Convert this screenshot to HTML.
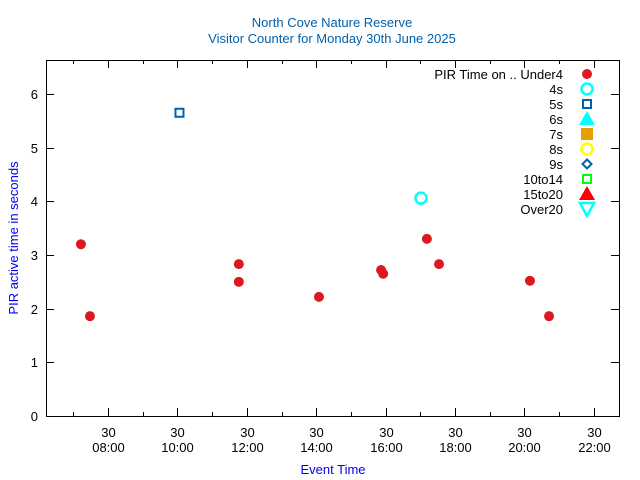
<!DOCTYPE html>
<html><head><meta charset="utf-8"><style>
body{margin:0;background:#fff}
svg{display:block;font-family:"Liberation Sans",sans-serif}
</style></head><body>
<svg id="c" width="640" height="480" xmlns="http://www.w3.org/2000/svg"></svg>
<script>
const under4Hours=[7.22,7.48,11.77,11.77,14.08,15.87,15.93,17.19,17.54,20.16,20.71];
const under4Values=[3.2,1.86,2.83,2.5,2.22,2.72,2.65,3.3,2.83,2.52,1.86];
const s4Hours=[17.02];
const s4Values=[4.06];
const s5Hours=[10.06];
const s5Values=[5.65];
const xTickHours=[8,10,12,14,16,18,20,22];
const xTickLabels=["08:00","10:00","12:00","14:00","16:00","18:00","20:00","22:00"];
const yTicks=[0,1,2,3,4,5,6];
const legendLabels=["PIR Time on .. Under4","4s","5s","6s","7s","8s","9s","10to14","15to20","Over20"];

const L=46,R=619,T=60,B=416;
const X=h=>108+(h-8)*34.7;
const Y=v=>416-v*53.67;
const svg=document.getElementById('c');
const NS="http://www.w3.org/2000/svg";
function mk(tag,attrs,parent){const e=document.createElementNS(NS,tag);for(const k in attrs)e.setAttribute(k,attrs[k]);(parent||svg).appendChild(e);return e;}
function txt(x,y,s,attrs){const e=mk('text',Object.assign({x:x,y:y,'font-size':13},attrs));e.textContent=s;return e;}

let t=txt(332,27,"North Cove Nature Reserve",{'text-anchor':'middle',fill:'#0060ad'});


t=txt(332,43,"Visitor Counter for Monday 30th June 2025",{'text-anchor':'middle',fill:'#0060ad'});



let frame=mk('rect',{x:L+.5,y:T+.5,width:R-L,height:B-T,fill:'none',stroke:'#000','stroke-width':1});



yTicks.forEach(v=>{
  const y=Math.round(Y(v))+.5;
  mk('line',{x1:L,x2:L+8,y1:y,y2:y,stroke:'#000'});
  mk('line',{x1:R-8,x2:R,y1:y,y2:y,stroke:'#000'});
  const e=txt(L-8,y+4.5,String(v),{'text-anchor':'end',fill:'#000'});
  
  
});
xTickHours.forEach((h,i)=>{
  const x=Math.round(X(h))+.5;
  mk('line',{x1:x,x2:x,y1:B,y2:B-8,stroke:'#000'});
  mk('line',{x1:x,x2:x,y1:T,y2:T+8,stroke:'#000'});
  const xm=Math.round(X(h-1))+.5;
  mk('line',{x1:xm,x2:xm,y1:B,y2:B-4,stroke:'#000'});
  mk('line',{x1:xm,x2:xm,y1:T,y2:T+4,stroke:'#000'});
  let e=txt(x,437,"30",{'text-anchor':'middle',fill:'#000'});
  
  
  e=txt(x,452,xTickLabels[i],{'text-anchor':'middle',fill:'#000'});
  
  
});

t=txt(333,474,"Event Time",{'text-anchor':'middle',fill:'#0000ee'});


t=txt(0,0,"PIR active time in seconds",{'text-anchor':'middle',fill:'#0000ee',transform:'translate(18,238) rotate(-90)'});



function marker(type,x,y){
  let e;
  if(type===0)e=mk('circle',{cx:x,cy:y,r:5,fill:'#dd181f'});
  else if(type===1)e=mk('circle',{cx:x,cy:y,r:5.5,fill:'none',stroke:'#00ffff','stroke-width':2.5});
  else if(type===2)e=mk('rect',{x:x-4,y:y-4,width:8,height:8,fill:'none',stroke:'#0060ad','stroke-width':2});
  else if(type===3)e=mk('polygon',{points:`${x},${y-8} ${x+8},${y+6} ${x-8},${y+6}`,fill:'#00ffff'});
  else if(type===4)e=mk('rect',{x:x-6,y:y-6,width:12,height:12,fill:'#e69f00'});
  else if(type===5)e=mk('circle',{cx:x,cy:y,r:5.5,fill:'none',stroke:'#ffff00','stroke-width':2.5});
  else if(type===6)e=mk('polygon',{points:`${x},${y-4.5} ${x+4.5},${y} ${x},${y+4.5} ${x-4.5},${y}`,fill:'none',stroke:'#0060ad','stroke-width':2});
  else if(type===7)e=mk('rect',{x:x-4,y:y-4,width:8,height:8,fill:'none',stroke:'#00ff00','stroke-width':2});
  else if(type===8)e=mk('polygon',{points:`${x},${y-8} ${x+8},${y+6} ${x-8},${y+6}`,fill:'#ff0000'});
  else e=mk('polygon',{points:`${x-7},${y-6} ${x+7},${y-6} ${x},${y+7}`,fill:'none',stroke:'#00ffff','stroke-width':2.5});
  return e;
}

legendLabels.forEach((s,i)=>{
  const y=74+i*15;
  let e=txt(563,y+5,s,{'text-anchor':'end',fill:'#000'});
  
  
  e=marker(i,587,y);
  
  
});

under4Hours.forEach((h,i)=>{
  const e=marker(0,X(h),Y(under4Values[i]));
  
  
});
s4Hours.forEach((h,i)=>{
  const e=marker(1,X(h),Y(s4Values[i]));
  
  
});
s5Hours.forEach((h,i)=>{
  const e=marker(2,X(h),Y(s5Values[i]));
  
  
});
</script>
</body></html>
